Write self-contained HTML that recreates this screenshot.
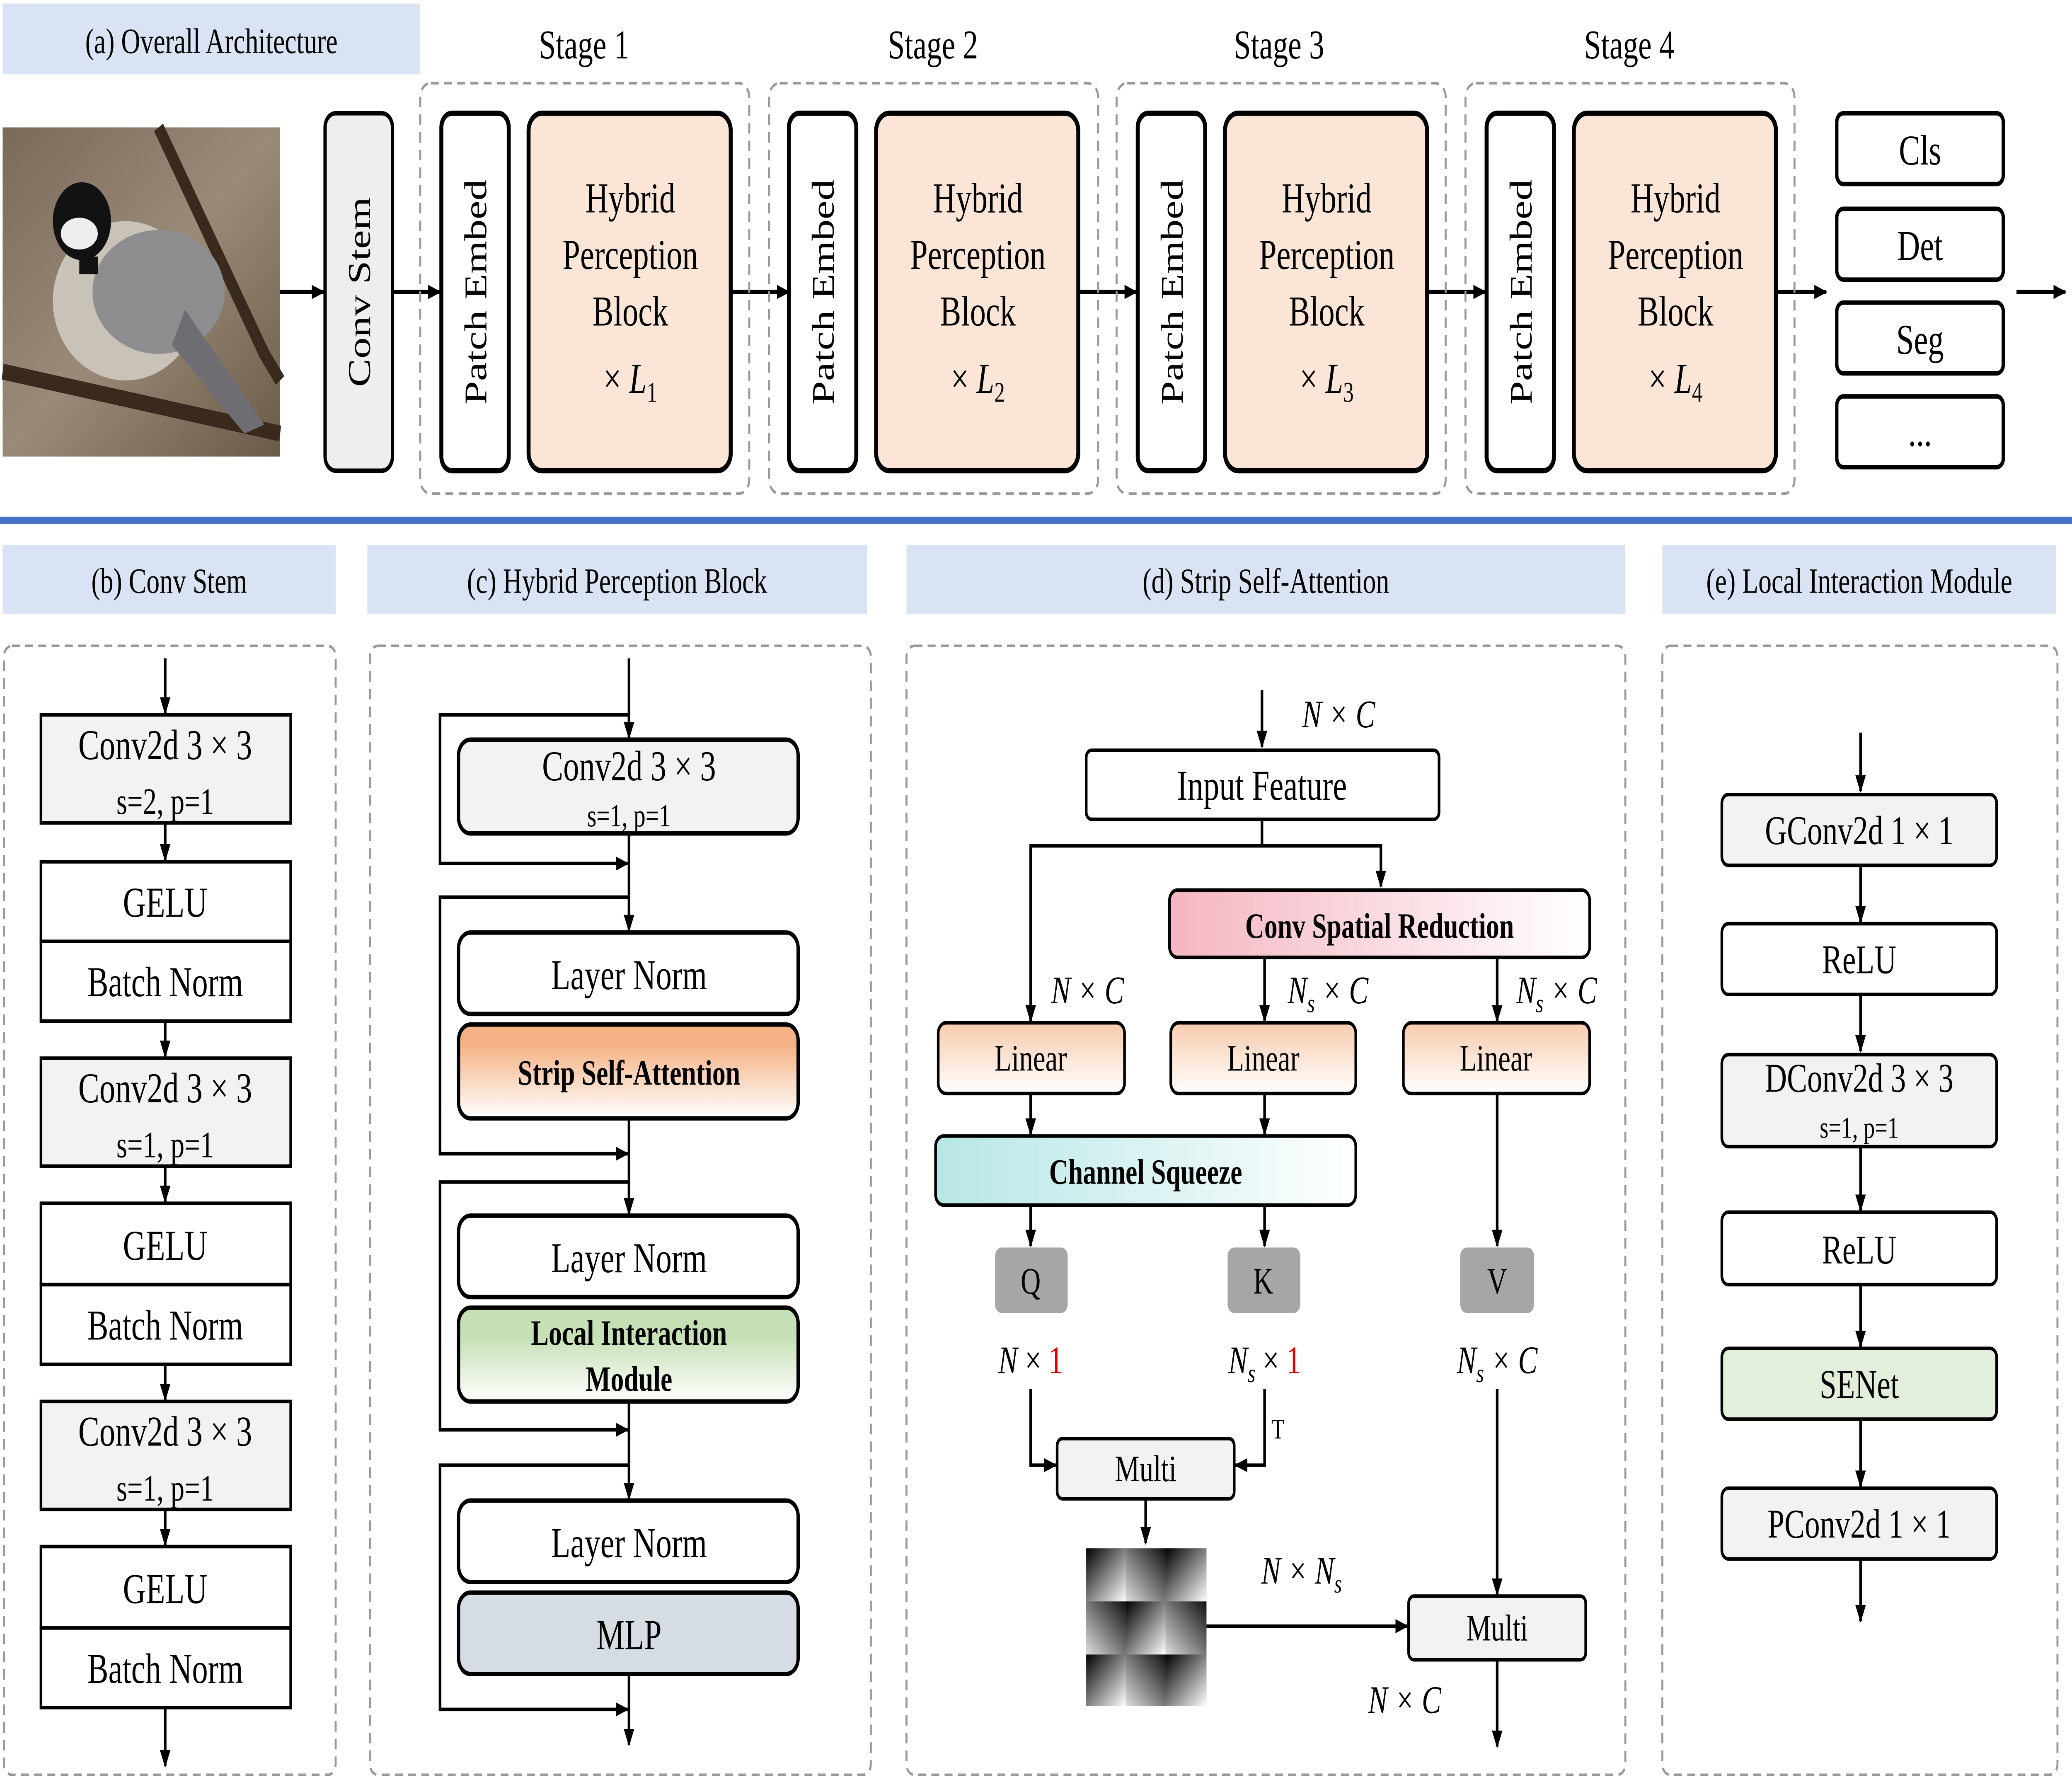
<!DOCTYPE html>
<html><head><meta charset="utf-8"><style>
html,body{margin:0;padding:0;background:#fff;width:100%;height:100%;overflow:hidden;}
svg{display:block;position:absolute;left:0;top:0;width:100vw;height:100vh;}
text{font-family:"Liberation Serif",serif;fill:#000;}
</style></head><body>
<svg viewBox="0 0 1568 1011" preserveAspectRatio="none" xmlns="http://www.w3.org/2000/svg">
<defs>
<marker id="ar" markerWidth="10" markerHeight="8" refX="9" refY="4" orient="auto" markerUnits="userSpaceOnUse"><path d="M0,0 L10,4 L0,8 z" fill="#000"/></marker>
<linearGradient id="gOr" x1="0" y1="0" x2="0" y2="1"><stop offset="0.2" stop-color="#f4b183"/><stop offset="1" stop-color="#fff"/></linearGradient>
<linearGradient id="gGr" x1="0" y1="0" x2="0" y2="1"><stop offset="0.3" stop-color="#c5e0b4"/><stop offset="1" stop-color="#fff"/></linearGradient>
<linearGradient id="gLin" x1="0" y1="0" x2="0" y2="1"><stop offset="0" stop-color="#f8cbad"/><stop offset="1" stop-color="#fff"/></linearGradient>
<linearGradient id="gPk" x1="0" y1="0" x2="1" y2="0"><stop offset="0" stop-color="#f4b6c2"/><stop offset="1" stop-color="#fff"/></linearGradient>
<linearGradient id="gCy" x1="0" y1="0" x2="1" y2="0"><stop offset="0" stop-color="#b7e6e6"/><stop offset="1" stop-color="#fff"/></linearGradient>
<linearGradient id="gBird" x1="0" y1="0" x2="1" y2="1"><stop offset="0" stop-color="#7a6a5a"/><stop offset="0.5" stop-color="#9a8a78"/><stop offset="1" stop-color="#6a5a48"/></linearGradient>
<linearGradient id="m1" x1="0" y1="0" x2="1" y2="1"><stop offset="0" stop-color="#000"/><stop offset="1" stop-color="#fff"/></linearGradient>
<linearGradient id="m2" x1="1" y1="0" x2="0" y2="1"><stop offset="0" stop-color="#111"/><stop offset="1" stop-color="#ddd"/></linearGradient>
</defs>

<rect x="2" y="2" width="316" height="40" fill="#dae3f3"/>
<text x="160" y="30" font-size="20" text-anchor="middle">(a) Overall Architecture</text>
<g font-size="23" text-anchor="middle">
<text x="442" y="33">Stage 1</text><text x="706" y="33">Stage 2</text><text x="968" y="33">Stage 3</text><text x="1233" y="33">Stage 4</text>
</g>
<rect x="2" y="72" width="210" height="186" fill="url(#gBird)"/>
<path d="M120,72 L200,200 L212,215" stroke="#3a2a1e" stroke-width="8" fill="none"/>
<path d="M2,210 L212,245" stroke="#3a2a1e" stroke-width="9" fill="none"/>
<ellipse cx="95" cy="170" rx="55" ry="45" fill="#c9c2b8"/>
<ellipse cx="120" cy="165" rx="50" ry="35" fill="#8e8e90"/>
<path d="M140,175 L200,240 L185,245 L130,195z" fill="#6e6e72"/>
<circle cx="62" cy="125" r="22" fill="#111"/>
<ellipse cx="60" cy="132" rx="14" ry="9" fill="#eee"/>
<rect x="60" y="145" width="14" height="10" fill="#111"/>

<g stroke="#000" stroke-width="2.5" fill="none">
<line x1="212" y1="165" x2="245" y2="165" marker-end="url(#ar)"/>
<line x1="297" y1="165" x2="333" y2="165" marker-end="url(#ar)"/>
<line x1="553" y1="165" x2="597" y2="165" marker-end="url(#ar)"/>
<line x1="816" y1="165" x2="860" y2="165" marker-end="url(#ar)"/>
<line x1="1080" y1="165" x2="1124" y2="165" marker-end="url(#ar)"/>
<line x1="1344" y1="165" x2="1382" y2="165" marker-end="url(#ar)"/>
<line x1="1526" y1="165" x2="1563" y2="165" marker-end="url(#ar)"/>
</g>
<rect x="246" y="64" width="51" height="202" rx="8" fill="#eeeeee" stroke="#000" stroke-width="2.5"/>
<text transform="translate(280,165) rotate(-90)" font-size="24" text-anchor="middle">Conv Stem</text>

<g stroke="#999" stroke-width="1.5" stroke-dasharray="6,4" fill="none">
<rect x="318" y="47" width="249" height="232" rx="8"/>
<rect x="582" y="47" width="249" height="232" rx="8"/>
<rect x="845" y="47" width="249" height="232" rx="8"/>
<rect x="1109" y="47" width="249" height="232" rx="8"/>
</g>
<g stroke="#000" stroke-width="3">
<rect x="334" y="64" width="51" height="202" rx="8" fill="#fff"/>
<rect x="400" y="64" width="153" height="202" rx="10" fill="#fbe5d6"/>
<rect x="597" y="64" width="51" height="202" rx="8" fill="#fff"/>
<rect x="663" y="64" width="153" height="202" rx="10" fill="#fbe5d6"/>
<rect x="861" y="64" width="51" height="202" rx="8" fill="#fff"/>
<rect x="927" y="64" width="153" height="202" rx="10" fill="#fbe5d6"/>
<rect x="1125" y="64" width="51" height="202" rx="8" fill="#fff"/>
<rect x="1191" y="64" width="153" height="202" rx="10" fill="#fbe5d6"/>
</g>
<g font-size="24" text-anchor="middle">
<text transform="translate(368,165) rotate(-90)">Patch Embed</text>
<text transform="translate(631,165) rotate(-90)">Patch Embed</text>
<text transform="translate(895,165) rotate(-90)">Patch Embed</text>
<text transform="translate(1159,165) rotate(-90)">Patch Embed</text>
<text x="477" y="120">Hybrid</text><text x="477" y="152">Perception</text><text x="477" y="184">Block</text>
<text x="477" y="222">× <tspan font-style="italic">L</tspan><tspan font-size="16" dy="5">1</tspan></text>
<text x="740" y="120">Hybrid</text><text x="740" y="152">Perception</text><text x="740" y="184">Block</text>
<text x="740" y="222">× <tspan font-style="italic">L</tspan><tspan font-size="16" dy="5">2</tspan></text>
<text x="1004" y="120">Hybrid</text><text x="1004" y="152">Perception</text><text x="1004" y="184">Block</text>
<text x="1004" y="222">× <tspan font-style="italic">L</tspan><tspan font-size="16" dy="5">3</tspan></text>
<text x="1268" y="120">Hybrid</text><text x="1268" y="152">Perception</text><text x="1268" y="184">Block</text>
<text x="1268" y="222">× <tspan font-style="italic">L</tspan><tspan font-size="16" dy="5">4</tspan></text>
</g>
<g stroke="#000" stroke-width="2.5" fill="#fff">
<rect x="1390" y="64" width="126" height="40" rx="5"/>
<rect x="1390" y="118" width="126" height="40" rx="5"/>
<rect x="1390" y="171" width="126" height="40" rx="5"/>
<rect x="1390" y="224" width="126" height="40" rx="5"/>
</g>
<g font-size="24" text-anchor="middle">
<text x="1453" y="93">Cls</text><text x="1453" y="147">Det</text><text x="1453" y="200">Seg</text><text x="1453" y="252">...</text>
</g>

<rect x="0" y="292" width="1568" height="4" fill="#4472c4"/>

<g fill="#dae3f3">
<rect x="2" y="308" width="252" height="39"/>
<rect x="278" y="308" width="378" height="39"/>
<rect x="686" y="308" width="544" height="39"/>
<rect x="1258" y="308" width="298" height="39"/>
</g>
<g font-size="20" text-anchor="middle">
<text x="128" y="335">(b)  Conv Stem</text>
<text x="467" y="335">(c) Hybrid Perception Block</text>
<text x="958" y="335">(d) Strip Self-Attention</text>
<text x="1407" y="335">(e)  Local Interaction Module</text>
</g>
<g stroke="#999" stroke-width="1.5" stroke-dasharray="6,4" fill="none">
<rect x="3" y="365" width="251" height="638" rx="6"/>
<rect x="280" y="365" width="379" height="638" rx="6"/>
<rect x="686" y="365" width="544" height="638" rx="6"/>
<rect x="1258" y="365" width="299" height="638" rx="6"/>
</g>

<g stroke="#000" stroke-width="2" fill="none">
<line x1="125" y1="372" x2="125" y2="403" marker-end="url(#ar)"/>
<line x1="125" y1="465" x2="125" y2="486" marker-end="url(#ar)"/>
<line x1="125" y1="577" x2="125" y2="597" marker-end="url(#ar)"/>
<line x1="125" y1="659" x2="125" y2="679" marker-end="url(#ar)"/>
<line x1="125" y1="771" x2="125" y2="791" marker-end="url(#ar)"/>
<line x1="125" y1="853" x2="125" y2="873" marker-end="url(#ar)"/>
<line x1="125" y1="965" x2="125" y2="998" marker-end="url(#ar)"/>
</g>
<g stroke="#000" stroke-width="2">
<rect x="31" y="404" width="189" height="61" fill="#f2f2f2"/>
<rect x="31" y="487" width="189" height="45" fill="#fff"/>
<rect x="31" y="532" width="189" height="45" fill="#fff"/>
<rect x="31" y="598" width="189" height="61" fill="#f2f2f2"/>
<rect x="31" y="680" width="189" height="46" fill="#fff"/>
<rect x="31" y="726" width="189" height="45" fill="#fff"/>
<rect x="31" y="792" width="189" height="61" fill="#f2f2f2"/>
<rect x="31" y="874" width="189" height="46" fill="#fff"/>
<rect x="31" y="920" width="189" height="45" fill="#fff"/>
</g>
<g font-size="24" text-anchor="middle">
<text x="125" y="429">Conv2d 3 × 3</text><text x="125" y="460" font-size="21">s=2, p=1</text>
<text x="125" y="518">GELU</text><text x="125" y="563">Batch Norm</text>
<text x="125" y="623">Conv2d 3 × 3</text><text x="125" y="654" font-size="21">s=1, p=1</text>
<text x="125" y="712">GELU</text><text x="125" y="757">Batch Norm</text>
<text x="125" y="817">Conv2d 3 × 3</text><text x="125" y="848" font-size="21">s=1, p=1</text>
<text x="125" y="906">GELU</text><text x="125" y="951">Batch Norm</text>
</g>

<g stroke="#000" stroke-width="2" fill="none">
<line x1="476" y1="372" x2="476" y2="417" marker-end="url(#ar)"/>
<polyline points="476,404 333,404 333,488 475,488" marker-end="url(#ar)"/>
<line x1="476" y1="471" x2="476" y2="526" marker-end="url(#ar)"/>
<polyline points="476,507 333,507 333,652 475,652" marker-end="url(#ar)"/>
<line x1="476" y1="632" x2="476" y2="686" marker-end="url(#ar)"/>
<polyline points="476,668 333,668 333,808 475,808" marker-end="url(#ar)"/>
<line x1="476" y1="792" x2="476" y2="847" marker-end="url(#ar)"/>
<polyline points="476,828 333,828 333,966 475,966" marker-end="url(#ar)"/>
<line x1="476" y1="946" x2="476" y2="986" marker-end="url(#ar)"/>
</g>
<g stroke="#000" stroke-width="2.5">
<rect x="347" y="418" width="257" height="53" rx="9" fill="#f2f2f2"/>
<rect x="347" y="527" width="257" height="46" rx="9" fill="#fff"/>
<rect x="347" y="579" width="257" height="53" rx="9" fill="url(#gOr)"/>
<rect x="347" y="687" width="257" height="46" rx="9" fill="#fff"/>
<rect x="347" y="739" width="257" height="53" rx="9" fill="url(#gGr)"/>
<rect x="347" y="848" width="257" height="46" rx="9" fill="#fff"/>
<rect x="347" y="900" width="257" height="46" rx="9" fill="#d6dce4"/>
</g>
<g font-size="24" text-anchor="middle">
<text x="476" y="441">Conv2d 3 × 3</text><text x="476" y="467" font-size="18">s=1, p=1</text>
<text x="476" y="559">Layer Norm</text>
<text x="476" y="613" font-size="20" font-weight="bold">Strip Self-Attention</text>
<text x="476" y="719">Layer Norm</text>
<text x="476" y="760" font-size="20" font-weight="bold">Local Interaction</text>
<text x="476" y="786" font-size="20" font-weight="bold">Module</text>
<text x="476" y="880">Layer Norm</text>
<text x="476" y="932">MLP</text>
</g>

<g stroke="#000" stroke-width="2" fill="none">
<line x1="955" y1="390" x2="955" y2="422" marker-end="url(#ar)"/>
<polyline points="955,463 955,478 780,478 780,577" marker-end="url(#ar)"/>
<polyline points="955,478 1045,478 1045,501" marker-end="url(#ar)"/>
<line x1="957" y1="541" x2="957" y2="577" marker-end="url(#ar)"/>
<line x1="1133" y1="541" x2="1133" y2="577" marker-end="url(#ar)"/>
<line x1="780" y1="618" x2="780" y2="641" marker-end="url(#ar)"/>
<line x1="957" y1="618" x2="957" y2="641" marker-end="url(#ar)"/>
<line x1="780" y1="681" x2="780" y2="704" marker-end="url(#ar)"/>
<line x1="957" y1="681" x2="957" y2="704" marker-end="url(#ar)"/>
<line x1="1133" y1="618" x2="1133" y2="704" marker-end="url(#ar)"/>
<polyline points="780,785 780,828 799,828" marker-end="url(#ar)"/>
<polyline points="957,785 957,828 935,828" marker-end="url(#ar)"/>
<line x1="867" y1="847" x2="867" y2="872" marker-end="url(#ar)"/>
<line x1="913" y1="919" x2="1065" y2="919" marker-end="url(#ar)"/>
<line x1="1133" y1="785" x2="1133" y2="901" marker-end="url(#ar)"/>
<line x1="1133" y1="938" x2="1133" y2="987" marker-end="url(#ar)"/>
</g>
<g stroke="#000" stroke-width="2">
<rect x="822" y="424" width="267" height="39" rx="4" fill="#fff"/>
<rect x="885" y="503" width="318" height="38" rx="6" fill="url(#gPk)"/>
<rect x="710" y="578" width="141" height="40" rx="6" fill="url(#gLin)"/>
<rect x="886" y="578" width="140" height="40" rx="6" fill="url(#gLin)"/>
<rect x="1062" y="578" width="141" height="40" rx="6" fill="url(#gLin)"/>
<rect x="708" y="642" width="318" height="39" rx="6" fill="url(#gCy)"/>
<rect x="800" y="813" width="134" height="34" rx="4" fill="#f2f2f2"/>
<rect x="1066" y="902" width="134" height="36" rx="4" fill="#f2f2f2"/>
</g>
<g fill="#a6a6a6">
<rect x="753" y="705" width="55" height="37" rx="5"/>
<rect x="929" y="705" width="55" height="37" rx="5"/>
<rect x="1105" y="705" width="56" height="37" rx="5"/>
</g>
<g>
<rect x="822" y="875" width="91" height="89" fill="#888"/>
<rect x="822" y="875" width="30" height="30" fill="url(#m1)"/>
<rect x="852" y="875" width="30" height="30" fill="url(#m2)"/>
<rect x="882" y="875" width="31" height="30" fill="url(#m1)"/>
<rect x="822" y="905" width="30" height="30" fill="url(#m2)"/>
<rect x="852" y="905" width="30" height="30" fill="url(#m1)"/>
<rect x="882" y="905" width="31" height="30" fill="url(#m2)"/>
<rect x="822" y="935" width="30" height="29" fill="url(#m1)"/>
<rect x="852" y="935" width="30" height="29" fill="url(#m2)"/>
<rect x="882" y="935" width="31" height="29" fill="url(#m1)"/>
</g>
<g font-size="22" text-anchor="middle">
<text x="1013" y="411" font-style="italic">N × C</text>
<text x="955" y="452" font-size="24">Input Feature</text>
<text x="1044" y="530" font-size="20" font-weight="bold">Conv Spatial Reduction</text>
<text x="823" y="567" font-style="italic">N × C</text>
<text x="1005" y="567" font-style="italic">N<tspan font-size="15" dy="5">s</tspan><tspan dy="-5"> × C</tspan></text>
<text x="1178" y="567" font-style="italic">N<tspan font-size="15" dy="5">s</tspan><tspan dy="-5"> × C</tspan></text>
<text x="780" y="605" font-size="21">Linear</text>
<text x="956" y="605" font-size="21">Linear</text>
<text x="1132" y="605" font-size="21">Linear</text>
<text x="867" y="669" font-size="20" font-weight="bold">Channel Squeeze</text>
<text x="780" y="731" font-size="21">Q</text>
<text x="956" y="731" font-size="21">K</text>
<text x="1133" y="731" font-size="21">V</text>
<text x="780" y="776"><tspan font-style="italic">N</tspan> × <tspan style="fill:#e00000">1</tspan></text>
<text x="957" y="776"><tspan font-style="italic">N</tspan><tspan font-size="15" dy="5" font-style="italic">s</tspan><tspan dy="-5"> × </tspan><tspan style="fill:#e00000">1</tspan></text>
<text x="1133" y="776" font-style="italic">N<tspan font-size="15" dy="5">s</tspan><tspan dy="-5"> × C</tspan></text>
<text x="967" y="813" font-size="16">T</text>
<text x="867" y="837" font-size="21">Multi</text>
<text x="985" y="895" font-style="italic">N × N<tspan font-size="15" dy="5">s</tspan></text>
<text x="1133" y="927" font-size="21">Multi</text>
<text x="1063" y="968" font-style="italic">N × C</text>
</g>

<g stroke="#000" stroke-width="2" fill="none">
<line x1="1408" y1="414" x2="1408" y2="447" marker-end="url(#ar)"/>
<line x1="1408" y1="489" x2="1408" y2="521" marker-end="url(#ar)"/>
<line x1="1408" y1="562" x2="1408" y2="594" marker-end="url(#ar)"/>
<line x1="1408" y1="648" x2="1408" y2="684" marker-end="url(#ar)"/>
<line x1="1408" y1="726" x2="1408" y2="761" marker-end="url(#ar)"/>
<line x1="1408" y1="802" x2="1408" y2="840" marker-end="url(#ar)"/>
<line x1="1408" y1="881" x2="1408" y2="916" marker-end="url(#ar)"/>
</g>
<g stroke="#000" stroke-width="2">
<rect x="1303" y="449" width="208" height="40" rx="5" fill="#f2f2f2"/>
<rect x="1303" y="522" width="208" height="40" rx="5" fill="#fff"/>
<rect x="1303" y="596" width="208" height="52" rx="5" fill="#f2f2f2"/>
<rect x="1303" y="685" width="208" height="41" rx="5" fill="#fff"/>
<rect x="1303" y="762" width="208" height="40" rx="5" fill="#e2efda"/>
<rect x="1303" y="841" width="208" height="40" rx="5" fill="#f2f2f2"/>
</g>
<g font-size="23" text-anchor="middle">
<text x="1407" y="477">GConv2d 1 × 1</text>
<text x="1407" y="550">ReLU</text>
<text x="1407" y="617">DConv2d 3 × 3</text><text x="1407" y="643" font-size="17">s=1, p=1</text>
<text x="1407" y="714">ReLU</text>
<text x="1407" y="790">SENet</text>
<text x="1407" y="869">PConv2d 1 × 1</text>
</g>
</svg>
</body></html>
